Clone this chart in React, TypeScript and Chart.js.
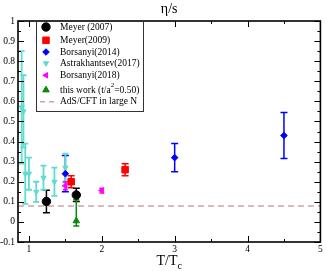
import React, { useEffect, useRef } from 'react';
import { Chart, registerables } from 'chart.js';
import { drawPoint } from 'chart.js/helpers';
Chart.register(...registerables);

const FONT = '"Liberation Serif", "Times New Roman", serif';

// ---- data ----
const meyer2007T = [1.24, 1.65];
const meyer2007Eta = [0.102, 0.134];
const meyer2007Err = [0.056, 0.033];

const meyer2009T = [1.58, 2.32];
const meyer2009Eta = [0.2, 0.26];
const meyer2009Err = [0.03, 0.03];

const borsanyi2014T = [1.5, 3.0, 4.5];
const borsanyi2014Eta = [0.24, 0.32, 0.43];
const borsanyi2014Err = [0.09, 0.07, 0.115];

const astraT = [0.9, 0.925, 0.95, 1.0, 1.1, 1.2, 1.35, 1.5];
const astraEta = [0.57, 0.55, 0.24, 0.24, 0.15, 0.22, 0.2, 0.27];
const astraErr = [0.28, 0.18, 0.15, 0.08, 0.05, 0.06, 0.07, 0.07];

const borsanyi2018T = [1.5, 2.0];
const borsanyi2018Eta = [0.18, 0.156];
const borsanyi2018Err = [0.02, 0.012];

const thisWorkT = [1.65];
const thisWorkEta = [0.005];
const thisWorkErrLo = [0.025];
const thisWorkErrHi = [0.105];

const adsT = [0.85, 5];
const adsEta = [0.0796, 0.0796];

const xTicks = [1, 2, 3, 4, 5];
const xMinorTicks = [1.5, 2.5, 3.5, 4.5];
const yTicks = [-0.1, 0, 0.1, 0.2, 0.3, 0.4, 0.5, 0.6, 0.7, 0.8, 0.9, 1];
const yMinorTicks = [-0.05, 0.05, 0.15, 0.25, 0.35, 0.45, 0.55, 0.65, 0.75, 0.85, 0.95];

const legendLabels = [
  'Meyer (2007)',
  'Meyer(2009)',
  'Borsanyi(2014)',
  'Astrakhantsev(2017)',
  'Borsanyi(2018)',
  'this work (t/a2=0.50)',
  'AdS/CFT in large N',
];

const CYAN = 'rgb(95,220,208)';
const ADS = 'rgb(205,165,165)';

const pts = (t: number[], e: number[]) => t.map((x, i) => ({ x, y: e[i] }));

const errorBarPlugin = {
  id: 'errbars',
  beforeDatasetsDraw(chart: any) {
    const ctx = chart.ctx;
    const xs = chart.scales.x;
    const ys = chart.scales.y;
    ctx.save();
    chart.data.datasets.forEach((ds: any) => {
      if (!ds.errLo) return;
      ctx.strokeStyle = ds.barColor || ds.borderColor;
      ctx.lineWidth = ds.barWidth || 1.5;
      ds.data.forEach((p: any, i: number) => {
        const x = xs.getPixelForValue(p.x);
        const yt = ys.getPixelForValue(p.y + ds.errHi[i]);
        const yb = ys.getPixelForValue(p.y - ds.errLo[i]);
        const c = ds.cap || 3;
        ctx.beginPath();
        ctx.moveTo(x, yt);
        ctx.lineTo(x, yb);
        ctx.moveTo(x - c, yt);
        ctx.lineTo(x + c, yt);
        ctx.moveTo(x - c, yb);
        ctx.lineTo(x + c, yb);
        ctx.stroke();
      });
    });
    ctx.restore();
  },
};

const framePlugin = {
  id: 'frame',
  afterDatasetsDraw(chart: any) {
    const ctx = chart.ctx;
    const { left, right, top, bottom } = chart.chartArea;
    const xs = chart.scales.x;
    const ys = chart.scales.y;
    ctx.save();
    ctx.strokeStyle = '#000';
    ctx.lineWidth = 1;
    ctx.beginPath();
    const tick = (v: number, len: number, axis: 'x' | 'y') => {
      if (axis === 'x') {
        const x = Math.round(xs.getPixelForValue(v)) + 0.5;
        ctx.moveTo(x, bottom);
        ctx.lineTo(x, bottom - len);
        ctx.moveTo(x, top);
        ctx.lineTo(x, top + len);
      } else {
        const y = Math.round(ys.getPixelForValue(v)) + 0.5;
        ctx.moveTo(left, y);
        ctx.lineTo(left + len, y);
        ctx.moveTo(right, y);
        ctx.lineTo(right - len, y);
      }
    };
    xTicks.forEach((v) => tick(v, 6, 'x'));
    xMinorTicks.forEach((v) => tick(v, 3, 'x'));
    yTicks.forEach((v) => tick(v, 6, 'y'));
    yMinorTicks.forEach((v) => tick(v, 3, 'y'));
    ctx.stroke();
    ctx.lineWidth = 1.6;
    ctx.strokeRect(left, top, right - left, bottom - top);

    // title
    ctx.fillStyle = '#000';
    ctx.font = `14px ${FONT}`;
    ctx.textAlign = 'center';
    ctx.textBaseline = 'middle';
    const cx = (left + right) / 2;
    ctx.fillText('η/s', cx, 9);
    // x title with subscript
    const main = 'T/T';
    const wMain = ctx.measureText(main).width;
    ctx.font = `10px ${FONT}`;
    const wSub = ctx.measureText('c').width;
    const startX = cx - (wMain + wSub) / 2;
    ctx.textAlign = 'left';
    ctx.font = `14px ${FONT}`;
    ctx.fillText(main, startX, 261);
    ctx.font = `10px ${FONT}`;
    ctx.fillText('c', startX + wMain, 266);

    // legend
    const lx = 36, ly = top, lw = 107, lh = 90;
    ctx.fillStyle = '#fff';
    ctx.fillRect(lx, ly, lw, lh);
    ctx.strokeStyle = '#333';
    ctx.lineWidth = 1;
    ctx.strokeRect(lx + 0.5, ly + 0.5, lw, lh);
    const rows = [6, 19.3, 31, 42.3, 54.3, 69, 80.7];
    const dsets = chart.data.datasets;
    ctx.font = `9.5px ${FONT}`;
    ctx.textBaseline = 'middle';
    ctx.textAlign = 'left';
    rows.forEach((dy, i) => {
      const y = ly + dy;
      const ds = dsets[i];
      if (i < 6) {
        ctx.fillStyle = ds.backgroundColor;
        ctx.strokeStyle = ds.borderColor;
        drawPoint(ctx, { pointStyle: ds.pointStyle, rotation: ds.rotation || 0, radius: ds.pointRadius, borderWidth: 1 }, 46, y);
      } else {
        ctx.strokeStyle = ADS;
        ctx.lineWidth = 1.5;
        ctx.setLineDash([5, 4]);
        ctx.beginPath();
        ctx.moveTo(40, y);
        ctx.lineTo(54, y);
        ctx.stroke();
        ctx.setLineDash([]);
      }
      ctx.fillStyle = '#000';
      const label = legendLabels[i];
      if (i === 5) {
        const a = 'this work (t/a';
        const b = '=0.50)';
        ctx.font = `9.5px ${FONT}`;
        ctx.fillText(a, 60, y);
        const wa = ctx.measureText(a).width;
        ctx.font = `7px ${FONT}`;
        ctx.fillText('2', 60 + wa, y - 5);
        const w2 = ctx.measureText('2').width;
        ctx.font = `9.5px ${FONT}`;
        ctx.fillText(b, 60 + wa + w2, y);
      } else {
        ctx.fillText(label, 60, y);
      }
    });
    ctx.restore();
  },
};

export default function App() {
  const ref = useRef<HTMLCanvasElement>(null);
  useEffect(() => {
    const canvas = ref.current!;
    const chart = new Chart(canvas, {
      type: 'scatter',
      data: {
        datasets: [
          {
            label: legendLabels[0],
            data: pts(meyer2007T, meyer2007Eta),
            errLo: meyer2007Err, errHi: meyer2007Err,
            pointStyle: 'circle', pointRadius: 4.2,
            backgroundColor: '#000', borderColor: '#000', borderWidth: 1,
            cap: 3.5, barWidth: 1.5,
          } as any,
          {
            label: legendLabels[1],
            data: pts(meyer2009T, meyer2009Eta),
            errLo: meyer2009Err, errHi: meyer2009Err,
            pointStyle: 'rect', pointRadius: 4.6,
            backgroundColor: '#ff0000', borderColor: '#ff0000', borderWidth: 1,
            cap: 3.5, barWidth: 1.5,
          },
          {
            label: legendLabels[2],
            data: pts(borsanyi2014T, borsanyi2014Eta),
            errLo: borsanyi2014Err, errHi: borsanyi2014Err,
            pointStyle: 'rectRot', pointRadius: 3.3,
            backgroundColor: '#0000ff', borderColor: '#0000ff', borderWidth: 1,
            cap: 3.5, barWidth: 1.5,
          },
          {
            label: legendLabels[3],
            data: pts(astraT, astraEta),
            errLo: astraErr, errHi: astraErr,
            pointStyle: 'triangle', rotation: 180, pointRadius: 3,
            backgroundColor: CYAN, borderColor: CYAN, borderWidth: 1,
            cap: 3, barWidth: 1.8,
          },
          {
            label: legendLabels[4],
            data: pts(borsanyi2018T, borsanyi2018Eta),
            errLo: borsanyi2018Err, errHi: borsanyi2018Err,
            pointStyle: 'triangle', rotation: -90, pointRadius: 3.2,
            backgroundColor: '#ff00ff', borderColor: '#ff00ff', borderWidth: 1,
            cap: 2.5, barWidth: 1.5,
          },
          {
            label: legendLabels[5],
            data: pts(thisWorkT, thisWorkEta),
            errLo: thisWorkErrLo, errHi: thisWorkErrHi,
            pointStyle: 'triangle', pointRadius: 3.8,
            backgroundColor: '#0a8a0a', borderColor: '#0a8a0a', borderWidth: 1,
            cap: 0, barWidth: 1.5,
          },
          {
            type: 'line',
            label: legendLabels[6],
            data: pts(adsT, adsEta),
            borderColor: ADS,
            borderDash: [6, 4],
            borderWidth: 1.5,
            pointRadius: 0,
            showLine: true,
            order: 10,
          } as any,
        ],
      },
      options: {
        animation: false,
        responsive: true,
        maintainAspectRatio: false,
        devicePixelRatio: 1,
        layout: { padding: { left: 0, right: 3, top: 21, bottom: 0 } },
        plugins: {
          legend: { display: false },
          title: { display: false },
          tooltip: { enabled: false },
        },
        scales: {
          x: {
            type: 'linear',
            min: 0.85,
            max: 5,
            grid: { display: false, drawTicks: false },
            border: { display: false },
            afterBuildTicks: (s: any) => { s.ticks = xTicks.map((v) => ({ value: v })); },
            afterFit: (s: any) => { s.height = 29; },
            ticks: {
              font: { family: FONT, size: 9.5 },
              color: '#000',
              padding: 2,
              maxRotation: 0,
              callback: (v: any) => String(v),
            },
          },
          y: {
            type: 'linear',
            min: -0.1,
            max: 1,
            grid: { display: false, drawTicks: false },
            border: { display: false },
            afterBuildTicks: (s: any) => { s.ticks = yTicks.map((v) => ({ value: v })); },
            afterFit: (s: any) => { s.width = 18; },
            ticks: {
              font: { family: FONT, size: 9.5 },
              color: '#000',
              padding: 3,
              callback: (v: any) => String(Math.round(Number(v) * 10) / 10),
            },
          },
        },
      },
      plugins: [errorBarPlugin, framePlugin],
    } as any);
    return () => chart.destroy();
  }, []);
  return (
    <div style={{ position: 'fixed', left: 0, top: 0, width: 326, height: 271, background: '#fff' }}>
      <canvas ref={ref} />
    </div>
  );
}
